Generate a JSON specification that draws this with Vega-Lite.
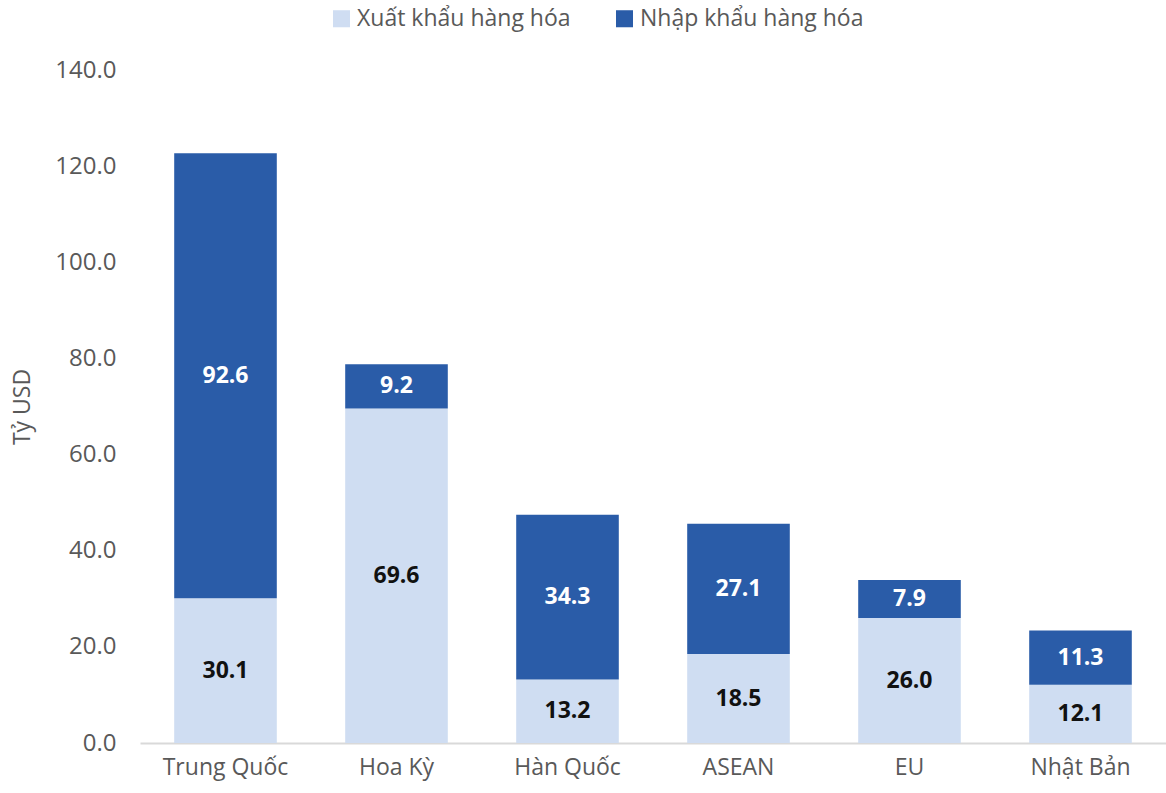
{
  "$schema": "https://vega.github.io/schema/vega-lite/v6.json",
  "width": 1026,
  "height": 673,
  "autosize": "none",
  "padding": {"left": 140, "top": 70, "right": 0, "bottom": 50},
  "config": {"view": {"stroke": null}, "font": "Open Sans"},
  "data": {"values": [
    {"country": "Trung Quốc", "type": "Xuất khẩu hàng hóa", "ord": 0, "value": 30.1},
    {"country": "Trung Quốc", "type": "Nhập khẩu hàng hóa", "ord": 1, "value": 92.6},
    {"country": "Hoa Kỳ", "type": "Xuất khẩu hàng hóa", "ord": 0, "value": 69.6},
    {"country": "Hoa Kỳ", "type": "Nhập khẩu hàng hóa", "ord": 1, "value": 9.2},
    {"country": "Hàn Quốc", "type": "Xuất khẩu hàng hóa", "ord": 0, "value": 13.2},
    {"country": "Hàn Quốc", "type": "Nhập khẩu hàng hóa", "ord": 1, "value": 34.3},
    {"country": "ASEAN", "type": "Xuất khẩu hàng hóa", "ord": 0, "value": 18.5},
    {"country": "ASEAN", "type": "Nhập khẩu hàng hóa", "ord": 1, "value": 27.1},
    {"country": "EU", "type": "Xuất khẩu hàng hóa", "ord": 0, "value": 26.0},
    {"country": "EU", "type": "Nhập khẩu hàng hóa", "ord": 1, "value": 7.9},
    {"country": "Nhật Bản", "type": "Xuất khẩu hàng hóa", "ord": 0, "value": 12.1},
    {"country": "Nhật Bản", "type": "Nhập khẩu hàng hóa", "ord": 1, "value": 11.3}
  ]},
  "transform": [
    {"stack": "value", "groupby": ["country"], "sort": [{"field": "ord", "order": "ascending"}], "as": ["y0", "y1"]},
    {"calculate": "(datum.y0 + datum.y1) / 2", "as": "ymid"}
  ],
  "encoding": {
    "x": {
      "field": "country", "type": "nominal", "sort": null,
      "scale": {"paddingInner": 0.4, "paddingOuter": 0.2},
      "axis": {"title": null, "labelAngle": 0, "labelFontSize": 23, "labelColor": "#595959", "labelPadding": 13, "ticks": false, "domainColor": "#D9D9D9", "domainWidth": 2}
    }
  },
  "layer": [
    {
      "mark": {"type": "bar"},
      "encoding": {
        "y": {"field": "y1", "type": "quantitative", "scale": {"domain": [0, 140]},
          "axis": {"values": [0, 20, 40, 60, 80, 100, 120, 140], "format": ".1f", "grid": false, "domain": false, "ticks": false, "labelFontSize": 24, "labelColor": "#595959", "labelPadding": 24, "title": "Tỷ USD", "titleFontSize": 23, "titleFontWeight": "normal", "titleColor": "#595959", "titlePadding": 20}},
        "y2": {"field": "y0"},
        "color": {"field": "type", "type": "nominal",
          "scale": {"domain": ["Xuất khẩu hàng hóa", "Nhập khẩu hàng hóa"], "range": ["#CFDDF2", "#2A5CA8"]},
          "legend": {"title": null, "orient": "none", "direction": "horizontal", "legendX": 190, "legendY": -63, "labelFontSize": 23, "labelLimit": 0, "labelColor": "#595959", "symbolType": "square", "symbolSize": 290, "symbolStrokeWidth": 0, "columnPadding": 42, "labelOffset": 4}}
      }
    },
    {
      "mark": {"type": "text", "fontSize": 23, "fontWeight": "bold"},
      "encoding": {
        "y": {"field": "ymid", "type": "quantitative"},
        "text": {"field": "value", "type": "quantitative", "format": ".1f"},
        "fill": {"condition": {"test": "datum.ord == 1", "value": "#FFFFFF"}, "value": "#111111"}
      }
    }
  ]
}
